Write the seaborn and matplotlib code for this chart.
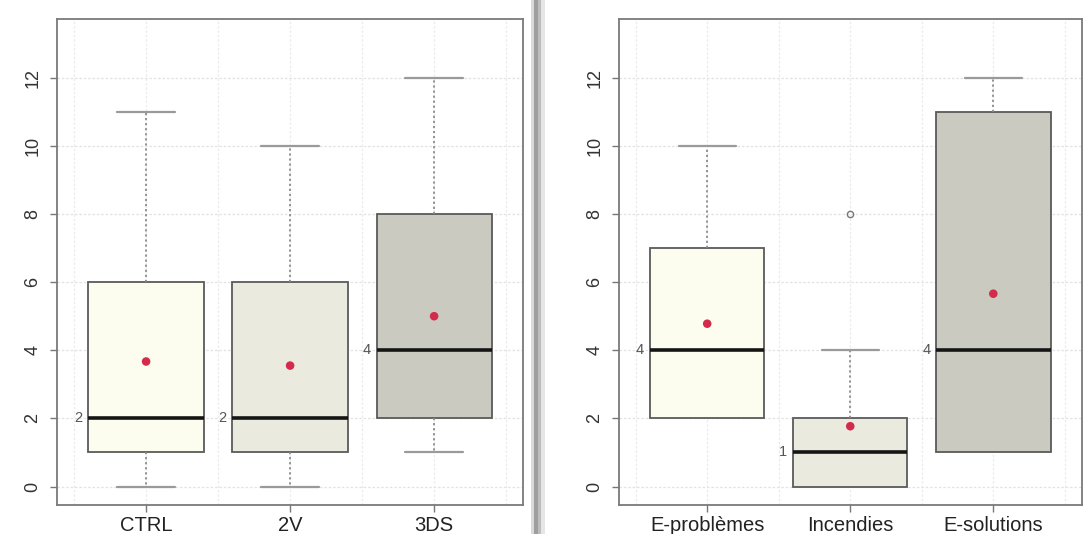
import numpy as np
import matplotlib
matplotlib.use("Agg")
import matplotlib.pyplot as plt
import seaborn as sns
from matplotlib.patches import Rectangle

# ---------------- data ----------------
left_categories = ["CTRL", "2V", "3DS"]
left_whisker_low = [0, 0, 1]
left_q1 = [1, 1, 2]
left_median = [2, 2, 4]
left_q3 = [6, 6, 8]
left_whisker_high = [11, 10, 12]
left_mean = [3.67, 3.55, 5.0]
left_outliers = [[], [], []]

right_categories = ["E-problèmes", "Incendies", "E-solutions"]
right_whisker_low = [2, 0, 1]
right_q1 = [2, 0, 1]
right_median = [4, 1, 4]
right_q3 = [7, 2, 11]
right_whisker_high = [10, 4, 12]
right_mean = [4.78, 1.77, 5.66]
right_outliers = [[], [8], []]

y_ticks = [0, 2, 4, 6, 8, 10, 12]
fill_colors = ["#FDFDEF", "#EAEADF", "#CACAC0"]

# ---------------- style ----------------
sns.set_theme(style="white")
plt.rcParams["font.family"] = ["Liberation Sans", "DejaVu Sans"]

W, H = 1084, 534
fig = plt.figure(figsize=(W / 100, H / 100), dpi=100)
fig.patch.set_facecolor("white")


def draw_panel(ax, cats, wlo, q1, med, q3, whi, mean, outl):
    stats = []
    for i, c in enumerate(cats):
        stats.append(dict(label=c, whislo=wlo[i], q1=q1[i], med=med[i],
                          q3=q3[i], whishi=whi[i], fliers=outl[i]))
    pos = np.arange(1, len(cats) + 1)
    ax.set_axisbelow(True)
    bp = ax.bxp(stats, positions=pos, widths=0.8, capwidths=0.4,
                patch_artist=True, showfliers=True,
                boxprops=dict(edgecolor="#5a5a5a", linewidth=1.3),
                medianprops=dict(color="#151515", linewidth=2.6),
                whiskerprops=dict(color="#8a8a8a", linewidth=1.3,
                                  linestyle=(0, (1.2, 1.6))),
                capprops=dict(color="#9a9a9a", linewidth=1.6),
                flierprops=dict(marker="o", markersize=4.5,
                                markerfacecolor="none",
                                markeredgecolor="#777777",
                                markeredgewidth=1.0))
    for patch, col in zip(bp["boxes"], fill_colors):
        patch.set_facecolor(col)
    # no visible lower whisker when it coincides with the box edge
    for i in range(len(cats)):
        if wlo[i] == q1[i]:
            bp["caps"][2 * i].set_visible(False)
            bp["whiskers"][2 * i].set_visible(False)
        if whi[i] == q3[i]:
            bp["caps"][2 * i + 1].set_visible(False)
            bp["whiskers"][2 * i + 1].set_visible(False)
    sns.scatterplot(x=pos, y=mean, ax=ax, color="#D42A4C", s=38,
                    edgecolor="none", zorder=5, legend=False)
    for p, m in zip(pos, med):
        ax.text(p - 0.44, m, f"{m:g}", ha="right", va="center",
                fontsize=10.5, color="#555555")

    ax.set_xlim(0.38, 3.62)
    ax.set_ylim(-0.528, 13.728)
    ax.set_yticks(y_ticks)
    ax.set_yticklabels([str(t) for t in y_ticks], rotation=90, va="center",
                       fontsize=13, color="#333333")
    ax.set_xticks(pos)
    ax.set_xticklabels(cats, fontsize=14.5, color="#222222")
    ax.set_xticks([0.5, 1.5, 2.5, 3.5], minor=True)
    ax.tick_params(axis="both", which="major", direction="out", length=5,
                   width=1, color="#777777", left=True, bottom=True)
    ax.tick_params(axis="x", which="minor", length=0)
    ax.tick_params(axis="y", which="major", pad=6)
    ax.tick_params(axis="x", which="major", pad=3)
    ax.grid(True, axis="y", which="major", color="#E2E2E2",
            linewidth=0.9, linestyle=(0, (2, 1.5)))
    ax.grid(True, axis="x", which="both", color="#ECECEC",
            linewidth=0.9, linestyle=(0, (2, 1.5)))
    for s in ax.spines.values():
        s.set_color("#7a7a7a")
        s.set_linewidth(1.3)
    ax.set_xlabel("")
    ax.set_ylabel("")
    ax.set_facecolor("white")


ax1 = fig.add_axes([56.8 / W, (H - 504.5) / H, (523.4 - 56.8) / W,
                    (504.5 - 18.9) / H])
draw_panel(ax1, left_categories, left_whisker_low, left_q1, left_median,
           left_q3, left_whisker_high, left_mean, left_outliers)

ax2 = fig.add_axes([618.5 / W, (H - 504.5) / H, (1082 - 618.5) / W,
                    (504.5 - 18.9) / H])
draw_panel(ax2, right_categories, right_whisker_low, right_q1, right_median,
           right_q3, right_whisker_high, right_mean, right_outliers)

# separator shadow between the two panels
for x0, x1, c in [(531, 534, "#d9d9d9"), (534, 538, "#9e9e9e"),
                  (538, 541, "#bdbdbd"), (541, 545, "#e6e6e6")]:
    fig.add_artist(Rectangle((x0 / W, 0), (x1 - x0) / W, 1,
                             transform=fig.transFigure, facecolor=c,
                             edgecolor="none", zorder=0))

fig.savefig("out.png", dpi=100, facecolor="white")
